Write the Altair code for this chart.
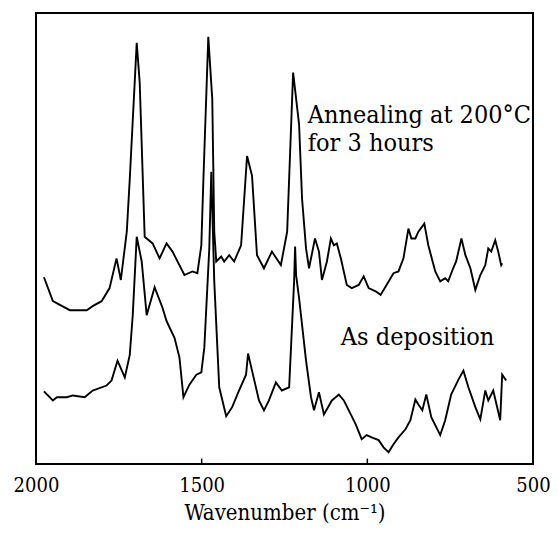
import altair as alt
import pandas as pd

# Annealed spectrum (wavenumber cm-1, absorbance arbitrary units)
annealed_wn = [1976, 1949, 1898, 1847, 1829, 1802, 1778, 1757, 1744, 1726, 1717, 1696, 1687,
               1672, 1648, 1627, 1606, 1588, 1552, 1528, 1513, 1501, 1495, 1480, 1468, 1462,
               1456, 1441, 1432, 1417, 1402, 1381, 1363, 1348, 1333, 1312, 1288, 1261, 1242,
               1224, 1206, 1197, 1185, 1176, 1158, 1146, 1137, 1122, 1110, 1101, 1092, 1080,
               1062, 1047, 1026, 1011, 996, 975, 960, 942, 921, 906, 891, 876, 867, 855, 846,
               828, 816, 795, 780, 765, 756, 741, 732, 716, 704, 689, 674, 659, 644, 635, 626,
               614, 605, 596, 593]
annealed_ab = [41.4, 36.1, 34.1, 34.1, 35.0, 36.1, 39.0, 45.6, 40.8, 51.5, 63.2, 93.4, 84.6,
               50.4, 48.9, 45.6, 48.9, 47.1, 41.9, 42.7, 42.3, 48.5, 62.6, 94.7, 80.9, 51.5,
               44.9, 46.0, 44.9, 46.3, 44.9, 48.5, 68.3, 63.9, 46.3, 43.4, 47.1, 44.1, 51.5,
               86.8, 75.3, 58.8, 47.8, 43.4, 50.0, 47.1, 40.8, 44.9, 50.0, 48.5, 48.9, 45.6,
               39.7, 39.0, 39.7, 41.6, 39.0, 38.3, 37.5, 39.7, 42.3, 42.7, 45.6, 52.2, 50.0,
               50.0, 51.5, 53.3, 48.5, 42.7, 40.5, 41.2, 40.5, 43.4, 44.9, 50.0, 46.3, 43.4,
               38.6, 41.9, 44.1, 47.8, 47.1, 49.6, 47.1, 44.1, 44.5]

# As-deposited spectrum
deposit_wn = [1976, 1949, 1937, 1907, 1889, 1853, 1829, 1787, 1772, 1754, 1732, 1717, 1708,
              1696, 1681, 1666, 1642, 1618, 1606, 1582, 1567, 1555, 1537, 1516, 1501, 1492,
              1477, 1471, 1462, 1447, 1426, 1408, 1387, 1366, 1360, 1348, 1327, 1312, 1297,
              1276, 1258, 1236, 1221, 1218, 1215, 1206, 1185, 1170, 1161, 1146, 1131, 1107,
              1086, 1071, 1056, 1035, 1017, 1002, 987, 966, 951, 936, 921, 906, 885, 870, 855,
              846, 834, 822, 807, 780, 765, 747, 725, 710, 695, 674, 659, 644, 635, 620, 599,
              593, 581]
deposit_ab = [16.1, 14.1, 14.8, 14.8, 15.2, 14.8, 16.3, 17.4, 18.5, 22.9, 19.2, 24.2, 33.0,
              50.4, 44.9, 33.0, 39.2, 34.6, 31.7, 28.0, 23.6, 14.8, 17.6, 19.8, 20.3, 25.8,
              47.8, 64.8, 40.5, 17.0, 10.6, 12.6, 16.3, 19.8, 24.5, 20.7, 14.1, 11.9, 14.1,
              18.1, 16.3, 17.0, 40.5, 48.2, 41.9, 36.8, 22.9, 14.8, 11.9, 15.9, 11.0, 14.1,
              15.4, 14.1, 11.9, 8.8, 5.5, 6.4, 5.9, 5.3, 3.7, 2.6, 4.4, 5.9, 7.7, 9.7, 14.3,
              13.2, 11.9, 15.4, 10.4, 6.4, 9.7, 15.4, 18.7, 20.7, 17.0, 12.6, 9.9, 16.3, 14.1,
              16.3, 9.7, 19.8, 18.5]

tick_values = [2000, 1500, 1000, 500]

ann_labels = ["Annealing at 200°C", "for 3 hours", "As deposition"]
ann_wn = [1180, 1180, 1080]
ann_ab = [75.5, 69.3, 26.4]

df = pd.concat([
    pd.DataFrame({"wn": annealed_wn, "ab": annealed_ab, "series": "annealed"}),
    pd.DataFrame({"wn": deposit_wn, "ab": deposit_ab, "series": "deposited"}),
])
ann_df = pd.DataFrame({"label": ann_labels, "wn": ann_wn, "ab": ann_ab})
tick_df = pd.DataFrame({"wn": tick_values, "y0": [0] * 4, "y1": [1.2] * 4})

FONT = "DejaVu Serif Condensed"
xscale = alt.Scale(domain=[500, 2000], reverse=True, nice=False, zero=False)
yscale = alt.Scale(domain=[0, 100], nice=False, zero=False)

xaxis = alt.Axis(values=tick_values, format="d", labelFont=FONT,
                 labelFontSize=20, labelColor="black", labelPadding=11, ticks=False,
                 domain=False, grid=False,
                 title="Wavenumber (cm⁻¹)", titleFont=FONT, titleFontSize=22,
                 titleFontWeight="normal", titleColor="black", titlePadding=7,
                 labelFlush=False)

lines = alt.Chart(df).mark_line(color="black", strokeWidth=1.9).encode(
    x=alt.X("wn:Q", scale=xscale, axis=xaxis),
    y=alt.Y("ab:Q", scale=yscale, axis=None),
    detail="series:N",
    order="wn:Q",
)

ticks = alt.Chart(tick_df).mark_rule(color="black", strokeWidth=1.5).encode(
    x=alt.X("wn:Q", scale=xscale),
    y=alt.Y("y0:Q", scale=yscale),
    y2="y1:Q",
)

texts = alt.Chart(ann_df).mark_text(align="left", baseline="alphabetic", font=FONT,
                                    fontSize=25, color="black").encode(
    x=alt.X("wn:Q", scale=xscale),
    y=alt.Y("ab:Q", scale=yscale),
    text="label:N",
)

chart = alt.layer(lines, ticks, texts).properties(
    width=497, height=451,
    autosize=alt.AutoSizeParams(type="none"),
    padding={"left": 28, "top": 5, "right": 17, "bottom": 66},
    background="white",
).configure_view(stroke="black", strokeWidth=2)

chart.save("out.html", embed_options={"renderer": "svg", "actions": False})
